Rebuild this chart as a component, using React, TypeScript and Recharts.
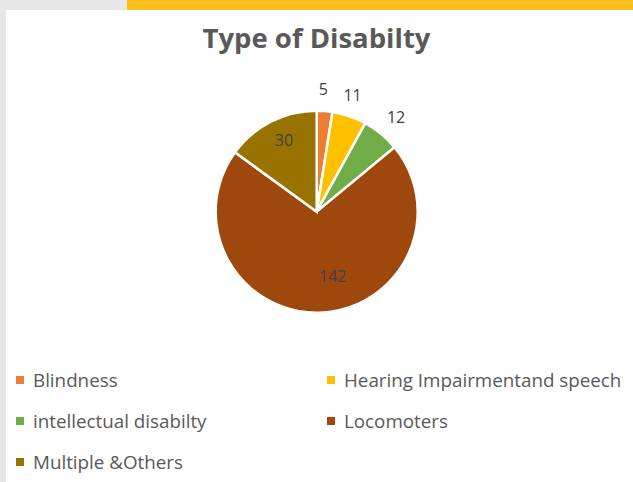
import { Legend, Pie, PieChart, Cell } from 'recharts';

// Valeurs
const categories = [
  'Blindness',
  'Hearing Impairmentand speech',
  'intellectual disabilty',
  'Locomoters',
  'Multiple &Others',
];
const counts = [5, 11, 12, 142, 30];
const colors = ['#ED7D31', '#FFC000', '#70AD47', '#9E480E', '#997300'];

const data = categories.map((name, i) => ({ name, value: counts[i] }));

const FONT = '"Open Sans", "Noto Sans", sans-serif';
const RADIAN = Math.PI / 180;

// petits décalages façon "best fit" d'Excel (dx, dy en px)
const labelNudge: [number, number][] = [
  [-3, 0],
  [-4, 0],
  [1, 0],
  [14, -1],
  [-3, -13],
];

if (typeof document !== 'undefined') document.body.style.margin = '0';

function renderLabel(props: any) {
  const { cx, cy, midAngle, outerRadius, percent, index, value } = props;
  const outside = percent < 0.1;
  const r = outside ? outerRadius + 22 : outerRadius * 0.65;
  const [dx, dy] = labelNudge[index] ?? [0, 0];
  const x = cx + r * Math.cos(-midAngle * RADIAN) + dx;
  const y = cy + r * Math.sin(-midAngle * RADIAN) + dy;
  return (
    <text
      x={x}
      y={y}
      textAnchor="middle"
      dominantBaseline="central"
      fill="#404040"
      fontSize={16}
      fontFamily={FONT}
    >
      {value}
    </text>
  );
}

// Légende sur 2 colonnes, dans l'ordre des séries (pas de tri)
function renderLegend() {
  return (
    <div style={{ position: 'relative', width: 627, height: 110 }}>
      {categories.map((name, i) => {
        const col = i % 2;
        const row = Math.floor(i / 2);
        return (
          <div
            key={name}
            style={{
              position: 'absolute',
              left: col === 0 ? 10 : 321,
              top: row * 41,
              display: 'flex',
              alignItems: 'center',
              height: 20,
              fontFamily: FONT,
              fontSize: 18.8,
              color: '#595959',
              whiteSpace: 'nowrap',
            }}
          >
            <span
              style={{
                display: 'inline-block',
                width: 8,
                height: 8,
                background: colors[i],
                marginRight: 9,
              }}
            />
            {name}
          </div>
        );
      })}
    </div>
  );
}

export default function App() {
  return (
    <div
      style={{
        position: 'relative',
        width: 633,
        height: 482,
        background: '#E7E7E7',
        overflow: 'hidden',
      }}
    >
      <div
        style={{
          position: 'absolute',
          left: 127,
          top: 0,
          width: 506,
          height: 10,
          background: '#FFC01F',
        }}
      />
      <div
        style={{
          position: 'absolute',
          left: 6,
          top: 10,
          width: 627,
          height: 472,
          background: '#FFFFFF',
        }}
      >
        <div
          style={{
            position: 'absolute',
            left: 0,
            top: 9,
            width: 621,
            textAlign: 'center',
            fontFamily: FONT,
            fontWeight: 700,
            fontSize: 27.5,
            color: '#595959',
          }}
        >
          Type of Disabilty
        </div>
        <PieChart
          width={627}
          height={472}
          margin={{ top: 0, right: 0, bottom: 0, left: 0 }}
        >
          <Pie
            data={data}
            dataKey="value"
            nameKey="name"
            cx={310.7}
            cy={201.7}
            outerRadius={101}
            startAngle={90}
            endAngle={-270}
            stroke="#FFFFFF"
            strokeWidth={2.5}
            label={renderLabel}
            labelLine={false}
            isAnimationActive={false}
          >
            {data.map((d, i) => (
              <Cell key={d.name} fill={colors[i]} />
            ))}
          </Pie>
          <Legend
            content={renderLegend}
            wrapperStyle={{ left: 0, top: 360, width: 627 }}
          />
        </PieChart>
      </div>
    </div>
  );
}
